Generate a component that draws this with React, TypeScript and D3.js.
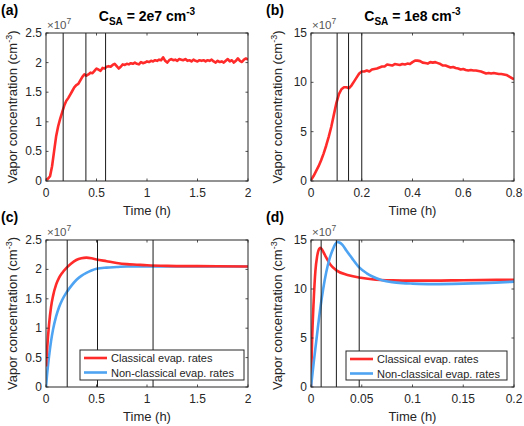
import React from "react";
import * as d3 from "d3";

// ---------- data (values in units of 1e7 cm^-3) ----------
const aTime = [0,0.02,0.04,0.06,0.08,0.10,0.12,0.14,0.16,0.18,0.20,0.22,0.24,0.26,0.28,0.30,0.32,0.34,0.36,0.38,0.40,0.42,0.44,0.46,0.48,0.50,0.52,0.54,0.56,0.58,0.60,0.62,0.64,0.66,0.68,0.70,0.72,0.74,0.76,0.78,0.80,0.82,0.84,0.86,0.88,0.90,0.92,0.94,0.96,0.98,1.00,1.02,1.04,1.06,1.08,1.10,1.12,1.14,1.16,1.18,1.20,1.22,1.24,1.26,1.28,1.30,1.32,1.34,1.36,1.38,1.40,1.42,1.44,1.46,1.48,1.50,1.52,1.54,1.56,1.58,1.60,1.62,1.64,1.66,1.68,1.70,1.72,1.74,1.76,1.78,1.80,1.82,1.84,1.86,1.88,1.90,1.92,1.94,1.96,1.98,2.00];
const aValue = [0.02,0.04,0.08,0.25,0.50,0.75,0.92,1.05,1.16,1.27,1.35,1.40,1.46,1.52,1.58,1.62,1.64,1.70,1.76,1.80,1.78,1.80,1.83,1.82,1.86,1.90,1.88,1.86,1.91,1.90,1.93,1.94,1.93,1.96,1.98,1.94,1.90,1.93,1.97,1.96,1.98,1.97,1.99,1.98,2.00,1.98,1.97,2.01,1.99,2.00,2.02,2.01,2.03,2.02,2.04,2.03,2.05,2.04,2.09,2.03,2.00,2.04,2.06,2.04,2.05,2.03,2.06,2.05,2.04,2.06,2.03,2.04,2.02,2.05,2.03,2.02,2.04,2.03,2.04,2.02,2.04,2.03,2.05,2.02,2.00,2.03,2.01,2.02,2.00,2.03,2.06,2.02,2.04,2.00,2.03,2.07,2.03,2.01,2.05,2.07,2.05];
const aLines = [0.17, 0.395, 0.59];

const bTime = [0,0.01,0.02,0.03,0.04,0.05,0.06,0.07,0.08,0.09,0.10,0.11,0.12,0.13,0.14,0.15,0.16,0.17,0.18,0.19,0.20,0.21,0.22,0.23,0.24,0.25,0.26,0.27,0.28,0.29,0.30,0.31,0.32,0.33,0.34,0.35,0.36,0.37,0.38,0.39,0.40,0.41,0.42,0.43,0.44,0.45,0.46,0.47,0.48,0.49,0.50,0.51,0.52,0.53,0.54,0.55,0.56,0.57,0.58,0.59,0.60,0.61,0.62,0.63,0.64,0.65,0.66,0.67,0.68,0.69,0.70,0.71,0.72,0.73,0.74,0.75,0.76,0.77,0.78,0.79,0.80];
const bValue = [0.1,0.5,1.0,1.5,2.1,2.8,3.6,4.5,5.5,6.7,7.9,8.8,9.3,9.5,9.5,9.4,9.7,10.1,10.5,10.9,11.1,11.1,11.2,11.1,11.3,11.35,11.4,11.5,11.6,11.6,11.8,11.75,11.7,11.85,11.8,11.75,11.85,11.8,11.9,11.85,12.05,12.2,12.2,12.15,12.0,11.95,11.9,12.05,12.0,12.05,11.95,11.85,11.7,11.7,11.6,11.5,11.55,11.45,11.4,11.3,11.35,11.25,11.2,11.25,11.2,11.2,11.15,11.1,11.0,10.9,10.95,10.9,10.95,10.9,10.85,10.85,10.8,10.75,10.6,10.45,10.3];
const bLines = [0.103, 0.148, 0.2];

const cTime = [0,0.01,0.02,0.03,0.05,0.07,0.1,0.13,0.16,0.2,0.25,0.3,0.35,0.4,0.45,0.5,0.6,0.7,0.8,0.9,1.0,1.2,1.5,2.0];
const cClassical = [0.35,0.62,0.86,1.06,1.36,1.55,1.74,1.86,1.94,2.02,2.1,2.16,2.19,2.2,2.19,2.17,2.14,2.11,2.09,2.08,2.07,2.06,2.055,2.05];
const cNonClassical = [0,0.2,0.37,0.52,0.78,0.98,1.2,1.36,1.48,1.6,1.72,1.82,1.89,1.94,1.98,2.01,2.03,2.04,2.05,2.05,2.05,2.05,2.05,2.05];
const cLines = [0.21, 0.51, 1.06];

const dClassicalTime = [0,0.001,0.0026,0.0043,0.006,0.008,0.0092,0.011,0.014,0.019,0.025,0.037,0.049,0.06,0.08,0.1,0.12,0.15,0.2];
const dClassical = [0,4.5,8.7,11.8,13.3,14.1,14.2,14.0,13.4,12.5,11.9,11.4,11.15,11.0,10.88,10.85,10.85,10.9,10.95];
const dNonClassicalTime = [0,0.003,0.006,0.009,0.012,0.015,0.018,0.021,0.024,0.026,0.028,0.031,0.035,0.04,0.0475,0.055,0.06,0.07,0.08,0.09,0.1,0.12,0.15,0.2];
const dNonClassical = [0,2.8,5.4,7.9,10.0,11.7,13.0,13.9,14.6,14.8,14.75,14.5,13.9,13.2,12.2,11.6,11.3,10.9,10.7,10.6,10.55,10.5,10.55,10.75];
const dLines = [0.01, 0.025, 0.0475];

const xTicksLong = [0, 0.5, 1, 1.5, 2];
const xTicksB = [0, 0.2, 0.4, 0.6, 0.8];
const xTicksD = [0, 0.05, 0.1, 0.15, 0.2];
const yTicksSmall = [0, 0.5, 1, 1.5, 2, 2.5];
const yTicksLarge = [0, 5, 10, 15];

const legendLabels = ["Classical evap. rates", "Non-classical evap. rates"];

const RED = "#ff2a2a";
const BLUE = "#4ea4f2";
const AX = "#262626";
const FONT = "'Liberation Sans', Arial, Helvetica, sans-serif";

type Series = { t: number[]; v: number[]; color: string; smooth: boolean };

type PanelProps = {
  id: string;
  letter: string;
  left: number; right: number; top: number; bottom: number;
  xMax: number; yMax: number;
  xTicks: number[]; yTicks: number[];
  series: Series[];
  vlines: number[];
  title?: string;
  legend?: { left: number; right: number; top: number; bottom: number };
};

function Panel(p: PanelProps) {
  const x = d3.scaleLinear().domain([0, p.xMax]).range([p.left, p.right]);
  const y = d3.scaleLinear().domain([0, p.yMax]).range([p.bottom, p.top]);
  const tl = 2.5;
  const cx = (p.left + p.right) / 2;
  const cy = (p.top + p.bottom) / 2;
  const fmt = (v: number) => String(v);
  return (
    <g fontFamily={FONT}>
      <defs>
        <clipPath id={"clip-" + p.id}>
          <rect x={p.left} y={p.top} width={p.right - p.left} height={p.bottom - p.top} />
        </clipPath>
      </defs>
      <rect x={p.left} y={p.top} width={p.right - p.left} height={p.bottom - p.top} fill="#fff" />
      <g clipPath={`url(#clip-${p.id})`}>
        {p.series.map((s, i) => {
          const line = d3
            .line<number>()
            .x((_, k) => x(s.t[k]))
            .y((d) => y(d))
            .curve(s.smooth ? d3.curveMonotoneX : d3.curveLinear);
          return (
            <path key={i} d={line(s.v) || ""} fill="none" stroke={s.color} strokeWidth={2.6} strokeLinejoin="round" />
          );
        })}
        {p.vlines.map((v, i) => (
          <line key={i} x1={x(v)} x2={x(v)} y1={p.top} y2={p.bottom} stroke="#1a1a1a" strokeWidth={1} />
        ))}
      </g>
      {p.xTicks.map((t, i) => (
        <g key={"xt" + i}>
          <line x1={x(t)} x2={x(t)} y1={p.bottom} y2={p.bottom - tl} stroke={AX} strokeWidth={0.8} />
          <line x1={x(t)} x2={x(t)} y1={p.top} y2={p.top + tl} stroke={AX} strokeWidth={0.8} />
          <text x={x(t)} y={p.bottom + 16} textAnchor="middle" fontSize={12} fill={AX}>
            {fmt(t)}
          </text>
        </g>
      ))}
      {p.yTicks.map((t, i) => (
        <g key={"yt" + i}>
          <line x1={p.left} x2={p.left + tl} y1={y(t)} y2={y(t)} stroke={AX} strokeWidth={0.8} />
          <line x1={p.right} x2={p.right - tl} y1={y(t)} y2={y(t)} stroke={AX} strokeWidth={0.8} />
          <text x={p.left - 4} y={y(t) + 4} textAnchor="end" fontSize={12} fill={AX}>
            {fmt(t)}
          </text>
        </g>
      ))}
      <rect x={p.left} y={p.top} width={p.right - p.left} height={p.bottom - p.top} fill="none" stroke={AX} strokeWidth={1} />
      <text x={p.left + 1} y={p.top - 4} fontSize={11.5} fill="#555">
        ×10<tspan dy={-5} fontSize={8.5}>7</tspan>
      </text>
      <text x={cx} y={p.bottom + 34} textAnchor="middle" fontSize={13} fill={AX}>
        Time (h)
      </text>
      <text transform={`translate(${p.left - 29},${cy}) rotate(-90)`} textAnchor="middle" fontSize={13} fill={AX}>
        Vapor concentration (cm<tspan dy={-5} fontSize={9}>-3</tspan>
        <tspan dy={5}>)</tspan>
      </text>
      <text x={p.left - 45} y={p.top - 18} fontSize={14} fontWeight="bold" fill="#000">
        ({p.letter})
      </text>
      {p.title && (
        <text x={cx} y={p.top - 12} textAnchor="middle" fontSize={14} fontWeight="bold" fill="#000">
          C<tspan dy={4} fontSize={10}>SA</tspan>
          <tspan dy={-4}> = {p.title} cm</tspan>
          <tspan dy={-6} fontSize={10}>-3</tspan>
        </text>
      )}
      {p.legend && (
        <g>
          <rect
            x={p.legend.left}
            y={p.legend.top}
            width={p.legend.right - p.legend.left}
            height={p.legend.bottom - p.legend.top}
            fill="#fff"
            stroke={AX}
            strokeWidth={1}
          />
          {legendLabels.map((lab, i) => {
            const ly = p.legend!.top + 8 + i * 14.5;
            return (
              <g key={i}>
                <line
                  x1={p.legend!.left + 4}
                  x2={p.legend!.left + 27}
                  y1={ly}
                  y2={ly}
                  stroke={i === 0 ? RED : BLUE}
                  strokeWidth={2.6}
                />
                <text x={p.legend!.left + 31} y={ly + 4} fontSize={11} fill={AX}>
                  {lab}
                </text>
              </g>
            );
          })}
        </g>
      )}
    </g>
  );
}

export default function App() {
  return (
    <svg
      width={524}
      height={426}
      style={{ position: "absolute", left: 0, top: 0, background: "#fff" }}
    >
      <rect width={524} height={426} fill="#fff" />
      <Panel
        id="a" letter="a" left={46} right={248} top={33} bottom={181}
        xMax={2} yMax={2.5} xTicks={xTicksLong} yTicks={yTicksSmall}
        series={[{ t: aTime, v: aValue, color: RED, smooth: false }]}
        vlines={aLines} title="2e7"
      />
      <Panel
        id="b" letter="b" left={311} right={514} top={33} bottom={181}
        xMax={0.8} yMax={15} xTicks={xTicksB} yTicks={yTicksLarge}
        series={[{ t: bTime, v: bValue, color: RED, smooth: false }]}
        vlines={bLines} title="1e8"
      />
      <Panel
        id="c" letter="c" left={46} right={248} top={240} bottom={387}
        xMax={2} yMax={2.5} xTicks={xTicksLong} yTicks={yTicksSmall}
        series={[
          { t: cTime, v: cNonClassical, color: BLUE, smooth: true },
          { t: cTime, v: cClassical, color: RED, smooth: true },
        ]}
        vlines={cLines}
        legend={{ left: 80, right: 244, top: 350, bottom: 380 }}
      />
      <Panel
        id="d" letter="d" left={311} right={514} top={240} bottom={387}
        xMax={0.2} yMax={15} xTicks={xTicksD} yTicks={yTicksLarge}
        series={[
          { t: dClassicalTime, v: dClassical, color: RED, smooth: true },
          { t: dNonClassicalTime, v: dNonClassical, color: BLUE, smooth: true },
        ]}
        vlines={dLines}
        legend={{ left: 346, right: 507, top: 351, bottom: 380 }}
      />
    </svg>
  );
}
